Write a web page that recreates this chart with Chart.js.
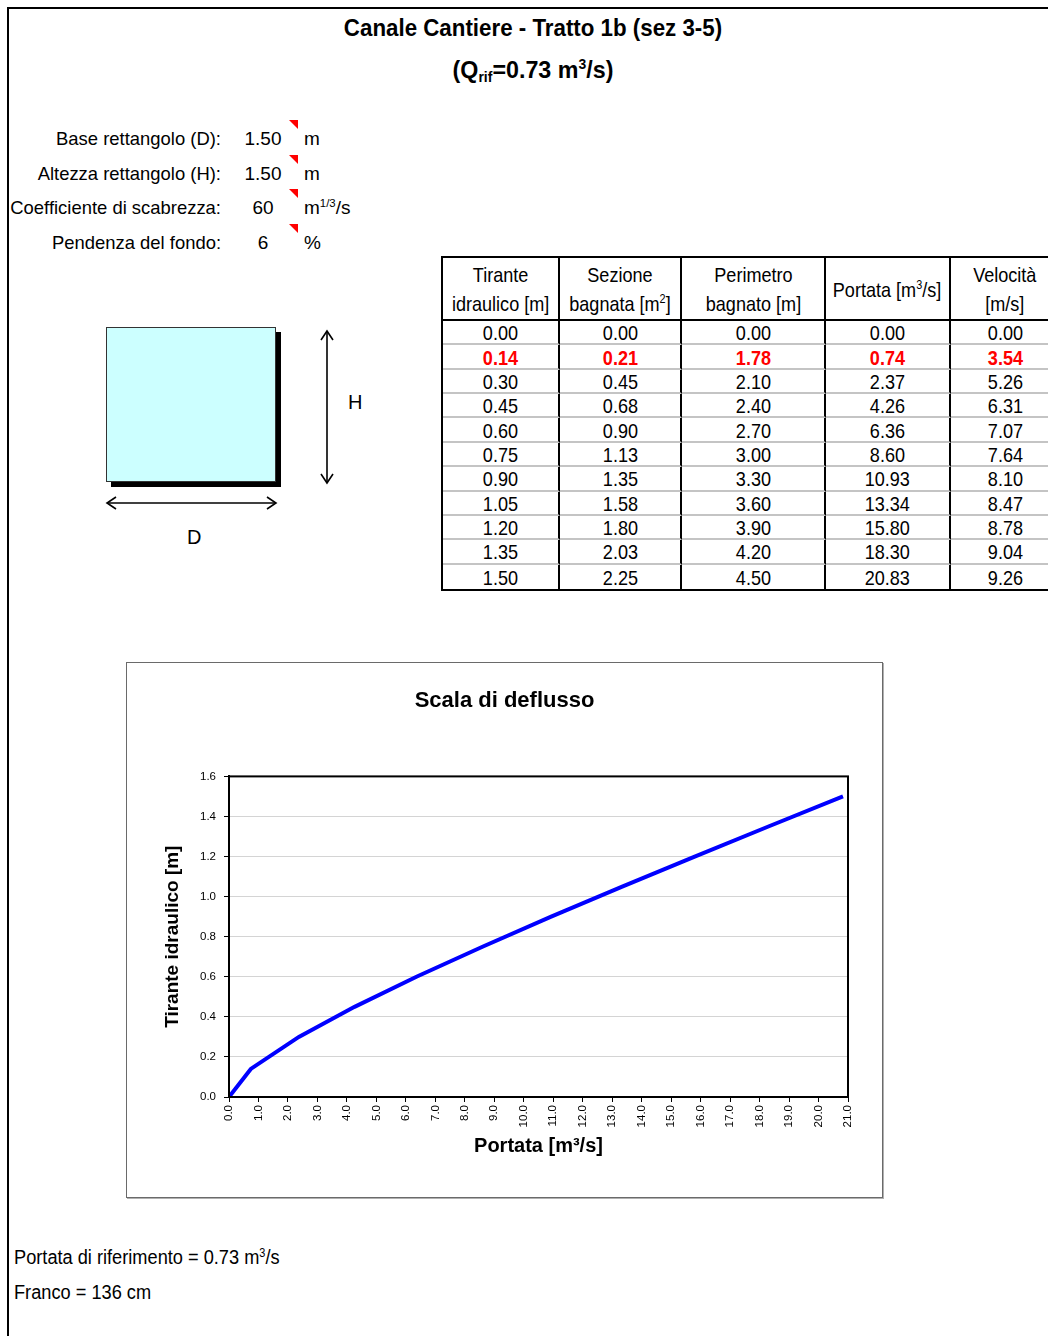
<!DOCTYPE html>
<html lang="it">
<head>
<meta charset="utf-8">
<title>Canale Cantiere - Tratto 1b (sez 3-5)</title>
<script src="https://cdn.jsdelivr.net/npm/chart.js@4.4.1/dist/chart.umd.min.js"></script>
<style>
  html, body { margin: 0; padding: 0; background: #fff; }
  body {
    width: 1048px; height: 1336px; position: relative; overflow: hidden;
    font-family: "Liberation Sans", Arial, sans-serif;
    color: #000;
  }
  .abs { position: absolute; white-space: nowrap; }
  sup { font-size: 0.6em; vertical-align: 0.62em; line-height: 0; }
  sub { font-size: 0.6em; vertical-align: -0.25em; line-height: 0; }
  #frame {
    position: absolute; left: 7px; top: 7px; width: 1100px; height: 1400px;
    border-top: 2px solid #000; border-left: 2px solid #000;
  }
  .title {
    left: 0; width: 1066px; text-align: center; font-weight: bold; font-size: 24px; line-height: 30px;
    transform-origin: center center;
  }
  .plabel {
    left: 0; width: 221px; text-align: right; font-size: 19px; line-height: 24px;
    transform: scaleX(0.97); transform-origin: right center;
  }
  .pval { left: 240px; width: 46px; text-align: center; font-size: 19px; line-height: 24px; }
  .punit { left: 304px; font-size: 19px; line-height: 24px; }
  .flag {
    position: absolute; width: 0; height: 0;
    border-top: 9px solid #ff0000; border-left: 9px solid transparent;
  }
  #tab {
    position: absolute; left: 441px; top: 256px;
    border: 2px solid #000; border-right: none;
    display: grid;
    grid-template-columns: 117px 122px 144px 125px 110px;
    grid-template-rows: 63px repeat(11, 24.36px);
    font-size: 21px;
  }
  #tab > div {
    box-sizing: border-box; border-right: 2px solid #000;
    display: flex; align-items: center; justify-content: center; text-align: center;
    white-space: nowrap; overflow: visible;
  }
  #tab > div > span { display: inline-block; transform: scaleX(0.86); transform-origin: center center; }
  #tab > div.h { border-bottom: 2px solid #000; line-height: 29px; padding-top: 1px; }
  #tab > div.d { border-bottom: 2px solid #c4c4c4; line-height: 22px; padding-top: 2px; }
  #tab > div.last { border-bottom: none; }
  #tab > div.red { color: #ff0000; font-weight: bold; }
  #sect {
    position: absolute; left: 106px; top: 327px; width: 170px; height: 155px;
    box-sizing: border-box; background: #ccffff; border: 1px solid #333;
    box-shadow: 5px 5px 0 #000;
  }
  .dim { font-size: 20px; line-height: 24px; }
  #chartBox {
    position: absolute; left: 126px; top: 662px; width: 757px; height: 536px;
    box-sizing: border-box; border: 1px solid #6a6a6a; box-shadow: 1px 1px 0 #b0b0b0;
  }
  #chartWrap { position: absolute; left: 127px; top: 663px; width: 755px; height: 534px; }
  .note {
    left: 14px; font-size: 20px; line-height: 24px;
    transform: scaleX(0.91); transform-origin: left center;
  }
</style>
</head>
<body>
<div id="frame"></div>

<div class="abs title" style="top:13px; transform: scaleX(0.93);">Canale Cantiere - Tratto 1b (sez 3-5)</div>
<div class="abs title" style="top:55px; transform: scaleX(0.97);">(Q<sub>rif</sub>=0.73 m<sup>3</sup>/s)</div>

<div id="params"></div>

<div id="tab"></div>

<div id="sect"></div>
<svg class="abs" style="left:0;top:0;" width="400" height="600">
  <g stroke="#000" stroke-width="1.6" fill="none">
    <line x1="327" y1="331" x2="327" y2="483"/>
    <polyline points="321,340 327,331 333,340"/>
    <polyline points="321,474 327,483 333,474"/>
    <line x1="107" y1="503" x2="276" y2="503"/>
    <polyline points="116,497 107,503 116,509"/>
    <polyline points="267,497 276,503 267,509"/>
  </g>
</svg>
<div class="abs dim" style="left:348px;top:390px;">H</div>
<div class="abs dim" style="left:187px;top:525px;">D</div>

<div id="chartBox"></div>
<div id="chartWrap"><canvas id="chart" width="755" height="534"></canvas></div>

<div class="abs note" style="top:1245px;">Portata di riferimento = 0.73 m<sup>3</sup>/s</div>
<div class="abs note" style="top:1280px;">Franco = 136 cm</div>

<script>
// Input parameters of the rectangular section
const paramLabels = ["Base rettangolo (D):", "Altezza rettangolo (H):", "Coefficiente di scabrezza:", "Pendenza del fondo:"];
const paramValues = ["1.50", "1.50", "60", "6"];
const paramUnits  = ["m", "m", "m<sup>1/3</sup>/s", "%"];

// Rating table columns
const tableHeaders = [
  "Tirante<br>idraulico [m]",
  "Sezione<br>bagnata [m<sup>2</sup>]",
  "Perimetro<br>bagnato [m]",
  "Portata [m<sup>3</sup>/s]",
  "Velocit\u00e0<br>[m/s]"
];
const tirante   = [0.00, 0.14, 0.30, 0.45, 0.60, 0.75, 0.90, 1.05, 1.20, 1.35, 1.50];
const sezione   = [0.00, 0.21, 0.45, 0.68, 0.90, 1.13, 1.35, 1.58, 1.80, 2.03, 2.25];
const perimetro = [0.00, 1.78, 2.10, 2.40, 2.70, 3.00, 3.30, 3.60, 3.90, 4.20, 4.50];
const portata   = [0.00, 0.74, 2.37, 4.26, 6.36, 8.60, 10.93, 13.34, 15.80, 18.30, 20.83];
const velocita  = [0.00, 3.54, 5.26, 6.31, 7.07, 7.64, 8.10, 8.47, 8.78, 9.04, 9.26];
const highlightRow = 1;

// Axis tick ranges of the rating curve
const xTicks = { min: 0, max: 21, step: 1 };
const yTicks = { min: 0, max: 1.6, step: 0.2 };

// Parameter block
const params = document.getElementById("params");
const rowCenters = [139, 174, 208, 243];
paramLabels.forEach((lab, i) => {
  const top = rowCenters[i] - 12;
  params.insertAdjacentHTML("beforeend",
    `<div class="abs plabel" style="top:${top}px;">${lab}</div>` +
    `<div class="abs pval" style="top:${top}px;">${paramValues[i]}</div>` +
    `<div class="flag" style="left:289px;top:${top - 7}px;"></div>` +
    `<div class="abs punit" style="top:${top}px;">${paramUnits[i]}</div>`);
});

// Table
const tab = document.getElementById("tab");
tableHeaders.forEach(h => tab.insertAdjacentHTML("beforeend", `<div class="h"><span>${h}</span></div>`));
const cols = [tirante, sezione, perimetro, portata, velocita];
for (let r = 0; r < tirante.length; r++) {
  cols.forEach(c => {
    const cls = ["d"];
    if (r === tirante.length - 1) cls.push("last");
    if (r === highlightRow) cls.push("red");
    tab.insertAdjacentHTML("beforeend", `<div class="${cls.join(" ")}"><span>${c[r].toFixed(2)}</span></div>`);
  });
}

// Rating curve
const FONT = "'Liberation Sans', Arial, sans-serif";

const frameArea = {
  id: "frameArea",
  afterDatasetsDraw(chart) {
    const { ctx, chartArea: a } = chart;
    ctx.save();
    ctx.strokeStyle = "#000";
    ctx.lineWidth = 2;
    ctx.strokeRect(a.left, a.top, a.right - a.left, a.bottom - a.top);
    ctx.restore();
  }
};

new Chart(document.getElementById("chart"), {
  type: "line",
  data: {
    datasets: [{
      data: portata.map((q, i) => ({ x: q, y: tirante[i] })),
      borderColor: "#0000ff",
      borderWidth: 4,
      pointRadius: 0,
      tension: 0,
      fill: false
    }]
  },
  options: {
    responsive: false,
    animation: false,
    devicePixelRatio: 1,
    layout: { padding: 0 },
    plugins: {
      legend: { display: false },
      tooltip: { enabled: false },
      title: {
        display: true,
        text: "Scala di deflusso",
        color: "#000",
        font: { family: FONT, size: 22, weight: "bold" },
        padding: { top: 25, bottom: 62 }
      }
    },
    scales: {
      x: {
        type: "linear",
        min: xTicks.min, max: xTicks.max,
        afterFit: s => { s.height = 100; },
        ticks: {
          stepSize: xTicks.step,
          callback: v => Number(v).toFixed(1),
          maxRotation: 90, minRotation: 90,
          color: "#000",
          padding: 3,
          font: { family: FONT, size: 11.5 }
        },
        grid: { drawOnChartArea: false, drawTicks: true, tickLength: 5, tickColor: "#000" },
        border: { color: "#000", width: 2 },
        title: {
          display: true,
          text: "Portata [m\u00b3/s]",
          color: "#000",
          font: { family: FONT, size: 20, weight: "bold" },
          padding: { top: 0, bottom: 39 }
        }
      },
      y: {
        min: yTicks.min, max: yTicks.max,
        afterFit: s => { s.width = 102; },
        ticks: {
          stepSize: yTicks.step,
          callback: v => Number(v).toFixed(1),
          color: "#000",
          padding: 8,
          font: { family: FONT, size: 11.5 }
        },
        grid: { color: "#d4d4d4", lineWidth: 1, tickLength: 5, tickColor: "#000" },
        border: { color: "#000", width: 2 },
        title: {
          display: true,
          text: "Tirante idraulico [m]",
          color: "#000",
          font: { family: FONT, size: 19, weight: "bold" },
          padding: { top: 34, bottom: 0 }
        }
      },
      // empty right-hand margin so the plot area ends where the frame expects it
      yRight: {
        position: "right",
        afterFit: s => { s.width = 34; },
        ticks: { display: false },
        grid: { display: false },
        border: { display: false }
      }
    }
  },
  plugins: [frameArea]
});
</script>
</body>
</html>
